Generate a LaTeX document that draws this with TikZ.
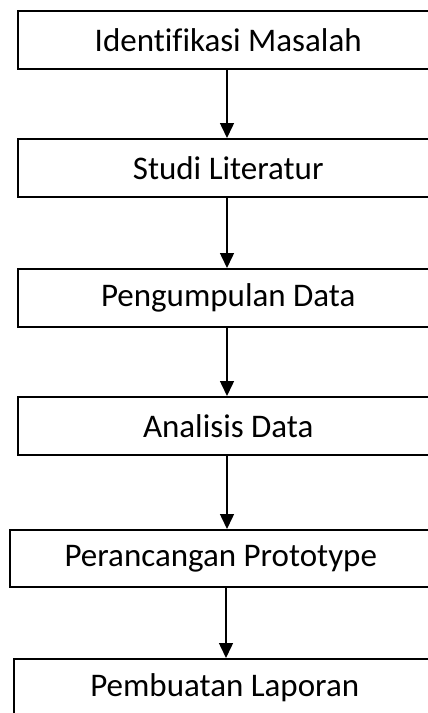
\documentclass[tikz,border=0pt]{standalone}
\usepackage{fontspec}
\setmainfont{Carlito}[Ligatures=NoCommon]
\usetikzlibrary{arrows.meta}
\begin{document}
\begin{tikzpicture}[x=1pt,y=-1pt,
  box/.style={draw=black, line width=1.5pt, anchor=north west, minimum height=58pt, inner sep=0pt,
    font=\fontsize{33}{40}\selectfont},
  arr/.style={draw=black, line width=1.5pt, -{Triangle[width=14pt,length=15pt]}}]
\useasboundingbox (0,0) rectangle (428,713);
\node[box, minimum width=421pt] (b1) at (17,10) {Identifikasi Masalah};
\node[box, minimum width=421pt] (b2) at (17,138) {Studi Literatur};
\node[box, minimum width=421pt] (b3) at (17,268) {Pengumpulan Data};
\node[box, minimum width=421pt] (b4) at (17,396) {Analisis Data};
\node[box, minimum width=422pt, minimum height=57pt] (b5) at (9,529) {Perancangan Prototype};
\node[box, minimum width=422pt] (b6) at (13,658) {Pembuatan Laporan};
\coordinate (ax) at (227,0);
\coordinate (ay) at (226,0);
\draw[arr] (b1.south -| ax) -- (b2.north -| ax);
\draw[arr] (b2.south -| ax) -- (b3.north -| ax);
\draw[arr] (b3.south -| ax) -- (b4.north -| ax);
\draw[arr] (b4.south -| ax) -- (b5.north -| ax);
\draw[arr] (b5.south -| ay) -- (b6.north -| ay);
\end{tikzpicture}
\end{document}
